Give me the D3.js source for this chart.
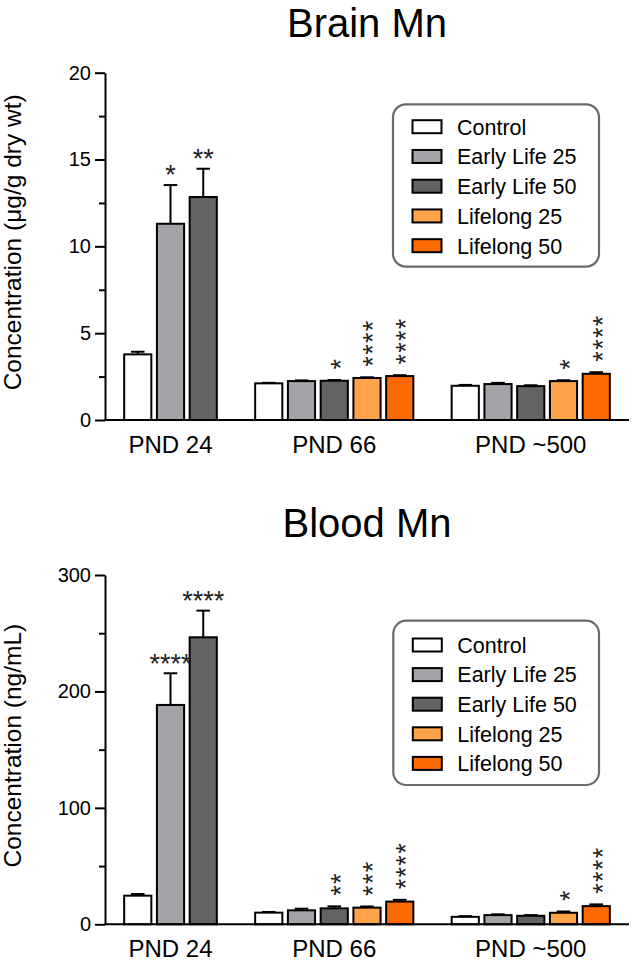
<!DOCTYPE html>
<html>
<head>
<meta charset="utf-8">
<script src="https://cdn.jsdelivr.net/npm/d3@7/dist/d3.min.js"></script>
<style>
  html, body { margin: 0; padding: 0; background: #fff; }
  svg { display: block; font-family: "Liberation Sans", Arial, Helvetica, sans-serif; }
</style>
</head>
<body>
<svg id="chart" width="633" height="961"></svg>
<script>
// ---------- data ----------
const categories = ["PND 24", "PND 66", "PND ~500"];
const seriesNames = ["Control", "Early Life 25", "Early Life 50", "Lifelong 25", "Lifelong 50"];

const brainMean = [[3.78, 11.3, 12.84], [2.11, 2.24, 2.26, 2.42, 2.53], [1.97, 2.07, 1.95, 2.24, 2.66]];
const brainSem  = [[0.15, 2.23, 1.63],  [0.03, 0.04, 0.04, 0.04, 0.05], [0.05, 0.07, 0.05, 0.05, 0.09]];
const brainStars = [["", "*", "**"], ["", "", "*", "****", "****"], ["", "", "", "*", "****"]];
const brainTicks = [0, 5, 10, 15, 20];
const brainMinorTicks = [2.5, 7.5, 12.5, 17.5];

const bloodMean = [[24.6, 188.4, 246.5], [10.0, 12.0, 13.7, 14.3, 19.5], [6.4, 7.9, 7.3, 9.9, 15.6]];
const bloodSem  = [[1.4, 27.2, 22.9],    [0.6, 1.4, 1.7, 1.0, 1.5],      [0.6, 0.7, 0.6, 1.1, 1.5]];
const bloodStars = [["", "****", "****"], ["", "", "**", "***", "****"], ["", "", "", "*", "****"]];
const bloodTicks = [0, 100, 200, 300];
const bloodMinorTicks = [50, 150, 250];

const starOrientation = ["horizontal", "vertical", "vertical"];

// ---------- styles ----------
const colors = ["#ffffff", "#a3a3a8", "#636363", "#ffa34a", "#ff6a00"];
const FONT = '"Liberation Sans", Arial, Helvetica, sans-serif';

const svg = d3.select("#chart");

// slot layout: half slot margin, one slot gap between groups
const counts = brainMean.map(g => g.length);
const groupStart = [];
{
  let s = 0.5;
  counts.forEach((c, i) => { groupStart.push(s); s += c + 1; });
}
const totalSlots = d3.sum(counts) + (counts.length - 1) + 1;
const x = d3.scaleLinear().domain([0, totalSlots]).range([105, 629]);
const slotW = x(1) - x(0);
const barW = slotW * 0.83;

function drawPanel(cfg) {
  const g = svg.append("g");
  const y = d3.scaleLinear().domain([0, cfg.max]).range([cfg.yBottom, cfg.yTop]);

  // title
  g.append("text")
    .attr("x", (x(0) + x(totalSlots)) / 2).attr("y", cfg.titleY)
    .attr("text-anchor", "middle").attr("font-size", 40).attr("fill", "#000")
    .text(cfg.title);

  // y axis title
  g.append("text")
    .attr("transform", `translate(21,${(cfg.yTop + cfg.yBottom) / 2 - 4}) rotate(-90)`)
    .attr("text-anchor", "middle").attr("font-size", 24.5).attr("fill", "#000")
    .text(cfg.yTitle);

  // bars
  const bars = [];
  cfg.mean.forEach((grp, gi) => {
    grp.forEach((v, si) => {
      const cx = x(groupStart[gi] + si + 0.5);
      bars.push({ gi, si, v, e: cfg.sem[gi][si], star: cfg.stars[gi][si], cx });
    });
  });

  // error bars (upper only)
  const eb = g.append("g").attr("stroke", "#000").attr("stroke-width", 2);
  bars.forEach(b => {
    eb.append("line").attr("x1", b.cx).attr("x2", b.cx)
      .attr("y1", y(b.v)).attr("y2", y(b.v + b.e));
    eb.append("line").attr("x1", b.cx - barW / 4).attr("x2", b.cx + barW / 4)
      .attr("y1", y(b.v + b.e)).attr("y2", y(b.v + b.e));
  });

  g.append("g").selectAll("rect").data(bars).join("rect")
    .attr("x", d => d.cx - barW / 2)
    .attr("y", d => y(d.v))
    .attr("width", barW)
    .attr("height", d => y(0) - y(d.v))
    .attr("fill", d => colors[d.si])
    .attr("stroke", "#000").attr("stroke-width", 2);

  // significance stars
  const sf = 27;
  const sg = g.append("g").attr("font-size", sf).attr("fill", "#222");
  bars.filter(b => b.star).forEach(b => {
    const capY = y(b.v + b.e);
    const centerY = capY - 16;
    if (starOrientation[b.gi] === "horizontal") {
      sg.append("text").attr("x", b.cx).attr("y", centerY + sf * 0.57)
        .attr("text-anchor", "middle").text(b.star);
    } else {
      // stacked upward: one text element rotated
      sg.append("text")
        .attr("transform", `translate(${b.cx},${centerY + sf * 0.2}) rotate(-90)`)
        .attr("x", 0).attr("y", sf * 0.57)
        .attr("letter-spacing", 1.3)
        .text(b.star);
    }
  });

  // y axis: major + minor
  const yAxis = d3.axisLeft(y).tickValues(cfg.ticks).tickSize(10).tickSizeOuter(0).tickPadding(4);
  const ya = g.append("g").attr("transform", `translate(${x(0)},0)`).call(yAxis);
  ya.select(".domain").attr("stroke", "#000").attr("stroke-width", 2);
  ya.selectAll(".tick line").attr("stroke", "#000").attr("stroke-width", 2);
  ya.selectAll(".tick text").attr("font-size", 20).attr("font-family", FONT).attr("fill", "#000");

  const yMinor = d3.axisLeft(y).tickValues(cfg.minor).tickSize(6).tickFormat("");
  const ym = g.append("g").attr("transform", `translate(${x(0)},0)`).call(yMinor);
  ym.select(".domain").remove();
  ym.selectAll(".tick line").attr("stroke", "#000").attr("stroke-width", 2);

  // x axis line
  g.append("line")
    .attr("x1", x(0)).attr("x2", x(totalSlots))
    .attr("y1", y(0)).attr("y2", y(0))
    .attr("stroke", "#000").attr("stroke-width", 2);

  // category labels
  categories.forEach((c, gi) => {
    const cx = x(groupStart[gi] + counts[gi] / 2);
    g.append("text").attr("x", cx).attr("y", y(0) + 33)
      .attr("text-anchor", "middle").attr("font-size", 24).attr("fill", "#000")
      .text(c);
  });

  // legend
  const L = cfg.legend;
  const lg = g.append("g");
  lg.append("rect").attr("x", L.x).attr("y", L.y).attr("width", L.w).attr("height", L.h)
    .attr("rx", 13).attr("ry", 13)
    .attr("fill", "#fff").attr("stroke", "#6b6b6b").attr("stroke-width", 2.2);
  seriesNames.forEach((name, i) => {
    const cy = L.firstRow + i * L.step;
    lg.append("rect").attr("x", L.x + 19.5).attr("y", cy - 6.5).attr("width", 29).attr("height", 13)
      .attr("fill", colors[i]).attr("stroke", "#000").attr("stroke-width", 2);
    lg.append("text").attr("x", L.x + 64).attr("y", cy + 7.8)
      .attr("font-size", 21.5).attr("fill", "#000").text(name);
  });
}

drawPanel({
  title: "Brain Mn", titleY: 36.5,
  yTitle: "Concentration (μg/g dry wt)",
  max: 20, yTop: 72.7, yBottom: 420,
  ticks: brainTicks, minor: brainMinorTicks,
  mean: brainMean, sem: brainSem, stars: brainStars,
  legend: { x: 393, y: 104.3, w: 206, h: 162.4, firstRow: 126.7, step: 29.75 }
});

drawPanel({
  title: "Blood Mn", titleY: 536.7,
  yTitle: "Concentration (ng/mL)",
  max: 300, yTop: 575, yBottom: 924.3,
  ticks: bloodTicks, minor: bloodMinorTicks,
  mean: bloodMean, sem: bloodSem, stars: bloodStars,
  legend: { x: 393.3, y: 620.7, w: 205.7, h: 164.3, firstRow: 645, step: 29.6 }
});
</script>
</body>
</html>
